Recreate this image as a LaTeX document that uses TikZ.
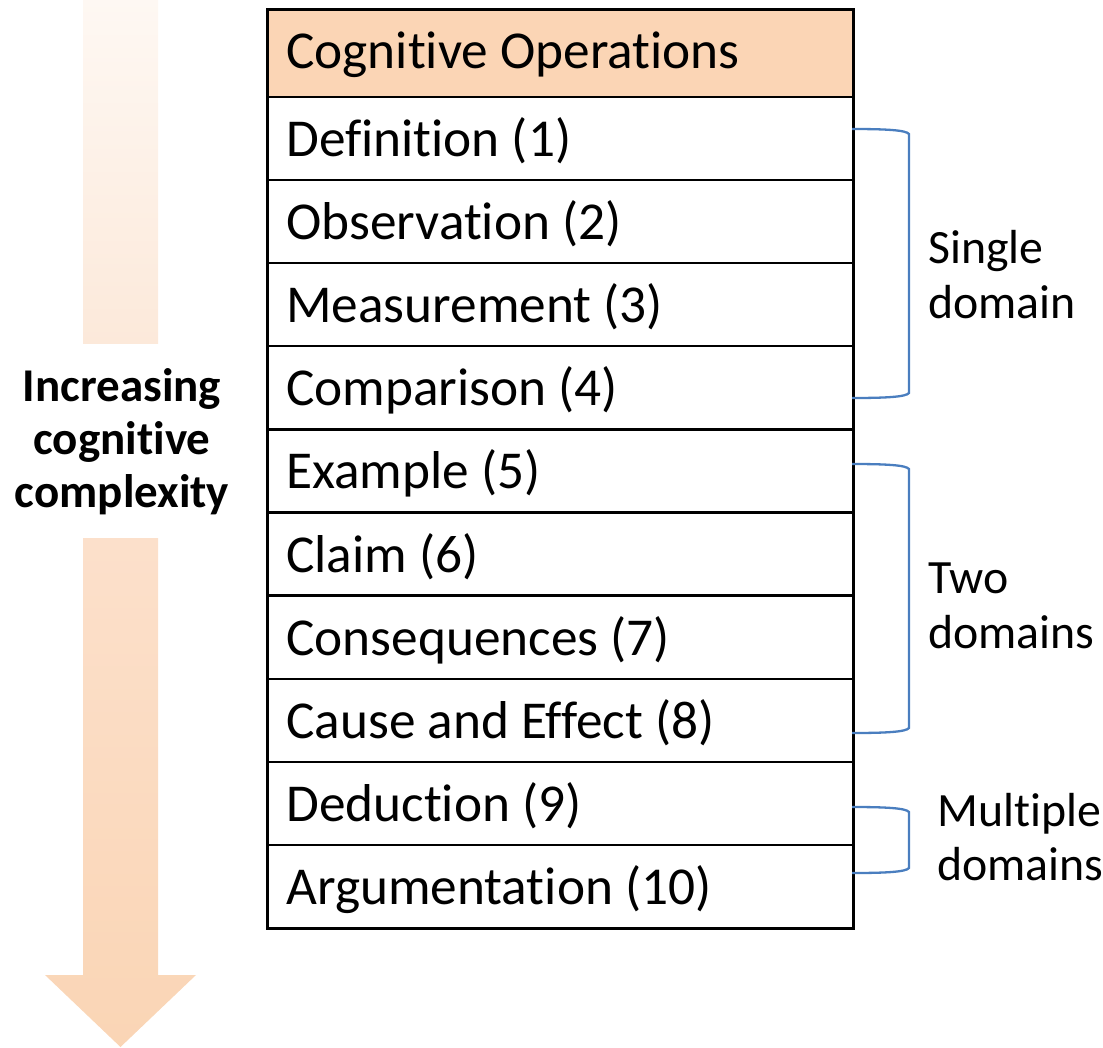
\documentclass[tikz,border=0pt]{standalone}
\usepackage{fontspec}
\setmainfont{Carlito}[Ligatures={NoCommon}]
\definecolor{headfill}{HTML}{FBD5B5}
\definecolor{fadetop}{HTML}{FEF8F3}
\definecolor{fademid}{HTML}{FCE9DA}
\definecolor{fadelow}{HTML}{FCE0CB}
\definecolor{arrowfill}{HTML}{FAD5B5}
\definecolor{brace}{HTML}{4A7EBF}
\begin{document}
\begin{tikzpicture}[x=1pt,y=-1pt,
  cell/.style={draw=black, line width=2.5pt, minimum width=586pt,
    minimum height=83.15pt, inner xsep=19pt, inner ysep=0pt, text width=548pt,
    align=left, text height=36pt, text depth=0pt, anchor=north west,
    execute at begin node={\spaceskip=0pt\xspaceskip=0pt},
    font=\fontsize{53.3}{60}\selectfont},
  headcell/.style={cell, fill=headfill, minimum height=87.5pt, text height=30.5pt},
  bracket/.style={draw=brace, line width=2.3pt},
  sidelabel/.style={anchor=base west, inner sep=0pt,
    font=\fontsize{47.8}{55}\selectfont},
  trend/.style={align=center, inner sep=0pt, anchor=north,
    font=\bfseries\fontsize{47}{53}\selectfont}]
\useasboundingbox (0,0) rectangle (1103,1047);

% shaded arrow: faded upper shaft and the lower shaft with its head
\shade[top color=fadetop, bottom color=fademid] (83,0) rectangle (158,343);
\shade[top color=fadelow, middle color=arrowfill, bottom color=arrowfill]
  (83,538) -- (158,538) -- (158,975) -- (196,975) -- (120.5,1047)
  -- (45,975) -- (83,975) -- cycle;
\node[trend] (trend) at (122,368) {Increasing\\cognitive\\complexity};

% table of operations
\node[headcell] (r0) at (266,8) {Cognitive Operations};
\foreach \i/\t in {1/Definition (1), 2/Observation (2), 3/Measurement (3),
    4/Comparison (4), 5/Example (5), 6/Claim (6), 7/Consequences (7),
    8/Cause and Effect (8), 9/Deduction (9), 10/Argumentation (10)}
  \node[cell] (r\i) at (266,{95.5+83.15*(\i-1)}) {\t};

% brackets grouping the rows
\coordinate (b1a) at (852,129);
\coordinate (b1b) at (852,398);
\coordinate (b2a) at (852,464);
\coordinate (b2b) at (852,733);
\coordinate (b3a) at (852,807);
\coordinate (b3b) at (852,873);
\draw[bracket] (b1a) .. controls (885,129) and (906,130) .. (909,134) -- (909,393)
  .. controls (906,397) and (885,398) .. (b1b);
\draw[bracket] (b2a) .. controls (885,464) and (906,465) .. (909,469) -- (909,728)
  .. controls (906,732) and (885,733) .. (b2b);
\draw[bracket] (b3a) .. controls (885,807) and (906,808) .. (909,812) -- (909,868)
  .. controls (906,872) and (885,873) .. (b3b);

% group labels
\node[sidelabel] (l1a) at (928,263) {Single};
\node[sidelabel] (l1b) at (928,318) {domain};
\node[sidelabel] (l2a) at (928,593) {Two};
\node[sidelabel] (l2b) at (928,648) {domains};
\node[sidelabel] (l3a) at (937,826) {Multiple};
\node[sidelabel] (l3b) at (937,880) {domains};
\end{tikzpicture}
\end{document}
